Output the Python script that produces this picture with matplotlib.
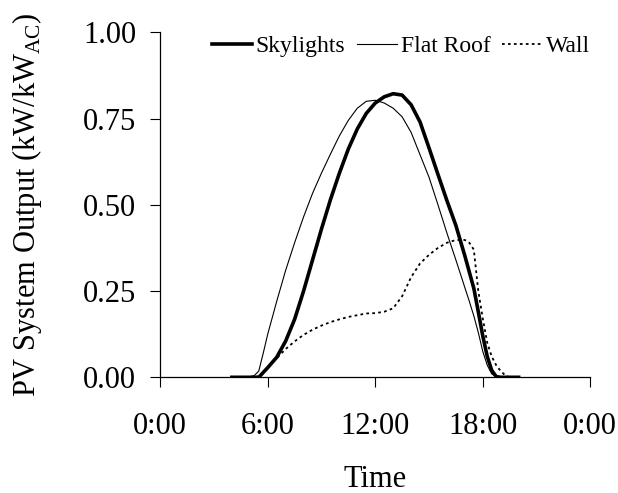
import matplotlib
matplotlib.use("Agg")
import matplotlib.pyplot as plt

plt.rcParams['font.family'] = ['Liberation Serif', 'DejaVu Serif']
plt.rcParams['mathtext.fontset'] = 'custom'
plt.rcParams['mathtext.rm'] = 'Liberation Serif'

# hour of day
hours = [4.0, 4.5, 5.0, 5.25, 5.5, 5.75, 6.0, 6.5, 7.0, 7.5, 8.0, 8.5, 9.0, 9.5,
         10.0, 10.5, 11.0, 11.5, 12.0, 12.5, 13.0, 13.5, 14.0, 14.5, 15.0, 15.5,
         16.0, 16.5, 17.0, 17.25, 17.5, 17.75, 18.0, 18.25, 18.5, 18.75, 19.0,
         19.25, 19.5, 20.0]

skylights = [0, 0, 0, 0, 0.0, 0.014, 0.028, 0.058, 0.105, 0.168, 0.25, 0.34, 0.43, 0.515,
             0.592, 0.662, 0.72, 0.765, 0.795, 0.813, 0.822, 0.818, 0.79, 0.74, 0.665, 0.588,
             0.512, 0.44, 0.352, 0.305, 0.258, 0.19, 0.12, 0.06, 0.02, 0.002, 0,
             0, 0, 0]

flat_roof = [0, 0, 0.002, 0.005, 0.018, 0.07, 0.125, 0.22, 0.31, 0.39, 0.465, 0.533, 0.592, 0.647,
             0.70, 0.745, 0.78, 0.80, 0.803, 0.795, 0.78, 0.755, 0.71, 0.645, 0.58, 0.50,
             0.418, 0.34, 0.26, 0.22, 0.178, 0.13, 0.075, 0.035, 0.01, 0.002, 0,
             0, 0, 0]

wall = [0, 0, 0, 0, 0.003, 0.014, 0.028, 0.055, 0.082, 0.104, 0.123, 0.138, 0.15, 0.16,
        0.168, 0.175, 0.18, 0.185, 0.186, 0.19, 0.20, 0.235, 0.29, 0.33, 0.355, 0.375,
        0.39, 0.398, 0.398, 0.39, 0.37, 0.25, 0.17, 0.10, 0.06, 0.035, 0.018,
        0.006, 0.0, 0]

xticks = [0, 6, 12, 18, 24]
xticklabels = ['0:00', '6:00', '12:00', '18:00', '0:00']
yticks = [0.0, 0.25, 0.5, 0.75, 1.0]

fig = plt.figure(figsize=(6.18, 4.93), dpi=100)
ax = fig.add_axes([160.2 / 618, 1 - 377.3 / 493, (590.3 - 160.2) / 618, (377.3 - 32.3) / 493])

ax.plot(hours, wall, color='black', linewidth=1.3, linestyle=(0, (1.5, 1.8)), label='Wall')
ax.plot(hours, flat_roof, color='black', linewidth=0.8, label='Flat Roof')
ax.plot(hours, skylights, color='black', linewidth=2.6, label='Skylights')

ax.set_xlim(0, 24)
ax.set_ylim(0, 1)
ax.set_xticks(xticks)
ax.set_xticklabels(xticklabels)
ax.set_yticks(yticks)
ax.set_yticklabels([f'{v:.2f}' for v in yticks])

for s in ['top', 'right']:
    ax.spines[s].set_visible(False)
for s in ['left', 'bottom']:
    ax.spines[s].set_linewidth(0.9)
    ax.spines[s].set_color('black')

ax.tick_params(axis='x', direction='out', length=7.2, width=0.8, labelsize=22, pad=18)
ax.tick_params(axis='y', direction='out', length=7.2, width=0.8, labelsize=22, pad=10)
ax.patch.set_visible(False)

ax.set_xlabel('Time', fontsize=22, labelpad=17)
ax.set_ylabel(r'PV System Output (kW/kW$_{\mathrm{AC}}$)', fontsize=22, labelpad=28)

handles, labels = ax.get_legend_handles_labels()
order = [2, 1, 0]
ax.legend([handles[i] for i in order], [labels[i] for i in order],
          loc='upper right', bbox_to_anchor=(1.0, 0.99), ncol=3, frameon=False,
          fontsize=17, handlelength=1.7, handletextpad=0.15, columnspacing=0.5,
          borderpad=0, borderaxespad=0)

fig.savefig('out.png', dpi=100)
